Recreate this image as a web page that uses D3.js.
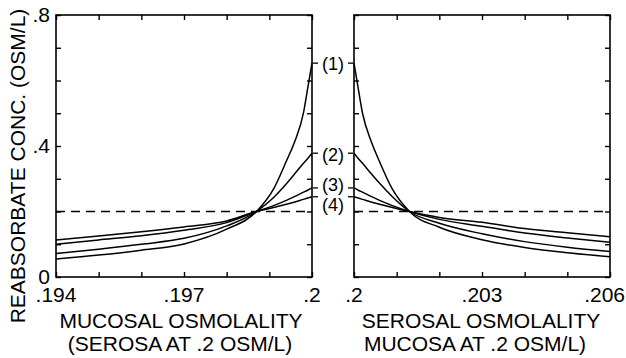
<!DOCTYPE html>
<html><head><meta charset="utf-8">
<script src="https://cdn.jsdelivr.net/npm/d3@7"></script>
<style>
body{margin:0;background:#fff;}
svg{display:block;font-family:"Liberation Sans",Arial,sans-serif;}
</style></head>
<body><svg id="c" width="626" height="358"></svg>
<script>
// ---- data ----
const leftX  = [.194,.195,.196,.197,.198,.1987,.1991,.1994,.1996,.1998,.1999,.2];
const leftC1 = [.055,.067,.082,.101,.146,.200,.269,.354,.415,.501,.577,.653];
const leftC2 = [.072,.085,.100,.118,.156,.200,.243,.285,.316,.347,.362,.378];
const leftC3 = [.100,.113,.126,.143,.166,.200,.218,.234,.246,.259,.265,.272];
const leftC4 = [.113,.125,.138,.153,.171,.200,.212,.222,.229,.237,.241,.245];

const rightX  = [.2,.2001,.2002,.2004,.2006,.2009,.2013,.202,.203,.204,.205,.206];
const rightC1 = [.653,.575,.500,.415,.352,.268,.200,.152,.114,.090,.074,.062];
const rightC2 = [.378,.362,.347,.316,.286,.245,.200,.164,.132,.108,.091,.078];
const rightC3 = [.272,.265,.259,.246,.234,.218,.200,.176,.155,.134,.119,.106];
const rightC4 = [.245,.241,.237,.229,.222,.212,.200,.182,.167,.148,.135,.123];

const baseline = 0.2;              // dashed reference level
const curveLabels = ["(1)","(2)","(3)","(4)"];
const leftTicks = [".194",".197",".2"];
const leftTickVals = [.194,.197,.2];
const rightTicks = [".2",".203",".206"];
const rightTickVals = [.2,.203,.206];
const yTicks = ["0",".4",".8"];
const yTickVals = [0,.4,.8];
const yLabel = "REABSORBATE CONC. (OSM/L)";
const leftXLabel = ["MUCOSAL OSMOLALITY","(SEROSA AT .2 OSM/L)"];
const rightXLabel = ["SEROSAL OSMOLALITY","MUCOSA AT .2 OSM/L)"];

// ---- layout ----
const svg = d3.select("#c");
const W = 626;
const pTop = 15, pBot = 277;
const y = d3.scaleLinear().domain([0,.8]).range([pBot,pTop]);
const xL = d3.scaleLinear().domain([.194,.2]).range([56,312]);
const xR = d3.scaleLinear().domain([.2,.206]).range([354,610]);
const FS = 21;

function panel(x, xs, series, tickVals, tickLabs){
  const [x0,x1] = x.range();
  const g = svg.append("g");
  g.append("rect").attr("x",x0).attr("y",pTop).attr("width",x1-x0).attr("height",pBot-pTop)
    .attr("fill","none").attr("stroke","#000").attr("stroke-width",1.6);
  const xt = d3.range(0,7).map(i=>x.domain()[0]+i*0.001);
  const yt = d3.range(0,9).map(i=>i*0.1);
  g.append("g").attr("transform",`translate(0,${pBot})`)
    .call(d3.axisTop(x).tickValues(xt).tickSize(5).tickFormat(""))
    .call(a=>a.select(".domain").remove());
  g.append("g").attr("transform",`translate(0,${pTop})`)
    .call(d3.axisBottom(x).tickValues(xt).tickSize(5).tickFormat(""))
    .call(a=>a.select(".domain").remove());
  g.append("g").attr("transform",`translate(${x0},0)`)
    .call(d3.axisRight(y).tickValues(yt).tickSize(5).tickFormat(""))
    .call(a=>a.select(".domain").remove());
  g.append("g").attr("transform",`translate(${x1},0)`)
    .call(d3.axisLeft(y).tickValues(yt).tickSize(5).tickFormat(""))
    .call(a=>a.select(".domain").remove());
  g.selectAll(".tick line").attr("stroke","#000").attr("stroke-width",1.4);
  g.append("line").attr("x1",x0).attr("x2",x1).attr("y1",y(baseline)).attr("y2",y(baseline))
    .attr("stroke","#000").attr("stroke-width",1.5).attr("stroke-dasharray","9,6");
  const line = d3.line().x((d,i)=>x(xs[i])).y(d=>y(d)).curve(d3.curveMonotoneX);
  series.forEach(s=>{
    g.append("path").attr("d",line(s)).attr("fill","none")
      .attr("stroke","#000").attr("stroke-width",1.5);
  });
  g.selectAll(".xl").data(tickVals).enter().append("text")
    .attr("x",d=>x(d)).attr("y",302).attr("text-anchor","middle")
    .attr("font-size",FS).text((d,i)=>tickLabs[i])
    .each(function(){
      const b = this.getBBox();
      if (b.x + b.width > W - 1) d3.select(this).attr("dx", (W - 1) - (b.x + b.width));
    });
  return g;
}

panel(xL, leftX, [leftC1,leftC2,leftC3,leftC4], leftTickVals, leftTicks);
panel(xR, rightX, [rightC1,rightC2,rightC3,rightC4], rightTickVals, rightTicks);

svg.selectAll(".yl").data(yTickVals).enter().append("text")
  .attr("x",50).attr("y",d=>y(d)).attr("dy","0.34em").attr("text-anchor","end")
  .attr("font-size",FS).text((d,i)=>yTicks[i]);

svg.append("text").attr("transform",`translate(24.5,166) rotate(-90)`)
  .attr("text-anchor","middle").attr("font-size",FS).text(yLabel);

svg.append("text").attr("x",181).attr("y",328).attr("text-anchor","middle").attr("font-size",FS).text(leftXLabel[0]);
svg.append("text").attr("x",180).attr("y",351).attr("text-anchor","middle").attr("font-size",FS).text(leftXLabel[1]);
svg.append("text").attr("x",481).attr("y",328).attr("text-anchor","middle").attr("font-size",FS).text(rightXLabel[0]);
svg.append("text").attr("x",475).attr("y",351).attr("text-anchor","middle").attr("font-size",FS).text(rightXLabel[1]);

const ends = [leftC1,leftC2,leftC3,leftC4].map(s=>s[s.length-1]);
const labelShift = [0,1,-3,8];
const mid = (xL.range()[1]+xR.range()[0])/2;
ends.forEach((v,i)=>{
  const yy = y(v);
  svg.append("text").attr("x",mid).attr("y",yy+labelShift[i]).attr("dy","0.36em")
    .attr("text-anchor","middle").attr("font-size",18).text(curveLabels[i]);
  [[313,318],[348,353]].forEach(([a,b])=>{
    svg.append("line").attr("x1",a).attr("x2",b).attr("y1",yy).attr("y2",yy)
      .attr("stroke","#000").attr("stroke-width",1.3);
  });
});
</script></body></html>
